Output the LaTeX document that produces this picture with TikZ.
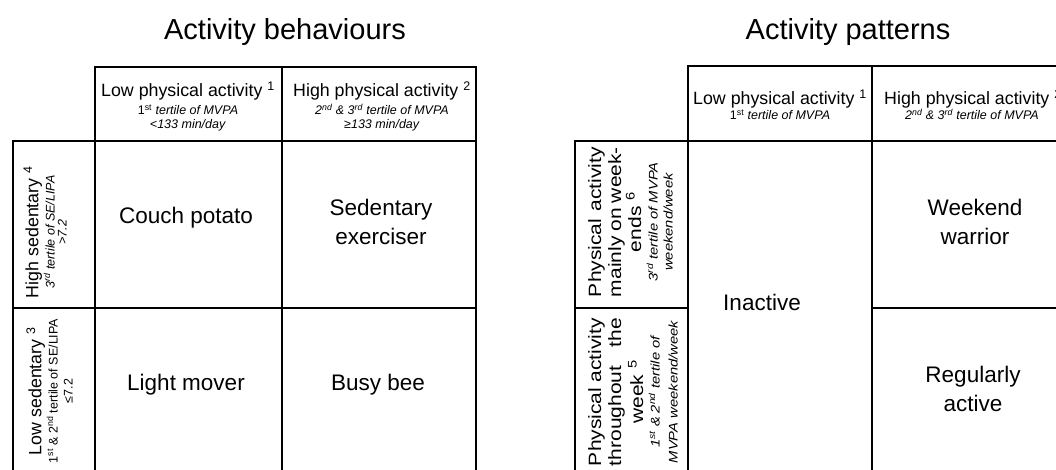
\documentclass[tikz,border=0pt]{standalone}
\usepackage{fontspec}
\setmainfont{Liberation Sans}
\newfontfamily\wideSans[FakeStretch=1.18]{Liberation Sans}
\newcommand{\fMain}{\fontsize{17.8}{20}\selectfont}
\newcommand{\fSmall}{\fontsize{12.5}{14}\selectfont}
\newcommand{\fBody}{\fontsize{22.5}{29}\selectfont}
\newcommand{\fTitle}{\fontsize{29}{33}\selectfont}
\tikzset{
  gridline/.style={line width=2.8pt, draw=black},
  titletext/.style={font=\fTitle, inner sep=0pt, anchor=base},
  headmain/.style={font=\fMain, inner sep=0pt, anchor=base},
  headsub/.style={font=\fSmall, inner sep=0pt, anchor=base},
  celltext/.style={font=\fBody, inner sep=0pt, align=center},
  stubmain/.style={font=\fMain, inner sep=0pt, anchor=base, rotate=90},
  stubsub/.style={font=\fSmall, inner sep=0pt, anchor=base, rotate=90},
  widemain/.style={font=\wideSans\fMain, inner sep=0pt, anchor=base, rotate=90},
  widesub/.style={font=\wideSans\fSmall\itshape, inner sep=0pt, anchor=base, rotate=90},
}
\begin{document}
\begin{tikzpicture}[x=1pt,y=-1pt]
\useasboundingbox (0,0) rectangle (1056,470);
\clip (0,0) rectangle (1056,470);

% ---------------- titles
\node[titletext] (t1) at (285,40) {Activity behaviours};
\node[titletext] (t2) at (848,40) {Activity patterns};

% ---------------- left table grid
\draw[gridline] (95,480) -- (95,67) -- (476,67) -- (476,480);
\draw[gridline] (282,67) -- (282,480);
\draw[gridline] (13,480) -- (13,141) -- (476,141);
\draw[gridline] (13,308) -- (476,308);

% left header
\node[headmain] (lh1a) at (188,97) {Low physical activity \textsuperscript{1}};
\node[headsub] (lh1b) at (188,114.5) {1\textsuperscript{st} \textit{tertile of MVPA}};
\node[headsub] (lh1c) at (188,128.5) {\textit{<133 min/day}};
\node[headmain] (lh2a) at (382,97) {High physical activity \textsuperscript{2}};
\node[headsub] (lh2b) at (382,114.5) {\textit{2\textsuperscript{nd} \& 3\textsuperscript{rd} tertile of MVPA}};
\node[headsub] (lh2c) at (382,128.5) {\textit{≥133 min/day}};

% left stub
\node[stubmain] (ls1a) at (38.4,232) {High sedentary \textsuperscript{4}};
\node[stubsub] (ls1b) at (54.5,232) {\textit{3\textsuperscript{rd} tertile of SE/LIPA}};
\node[stubsub] (ls1c) at (66.5,232) {\textit{>7.2}};
\node[stubmain] (ls2a) at (41.4,391) {Low sedentary \textsuperscript{3}};
\node[stubsub] (ls2b) at (57.5,391) {1\textsuperscript{st} \& 2\textsuperscript{nd} tertile of SE/LIPA};
\node[stubsub] (ls2c) at (72.5,391) {≤7.2};

% left cells
\node[celltext] (couch) at (186,218) {Couch potato};
\node[celltext] (sedex) at (381,222.3) {Sedentary\\exerciser};
\node[celltext] (light) at (186,385) {Light mover};
\node[celltext] (busy) at (378,385) {Busy bee};

% ---------------- right table grid
\draw[gridline] (688,480) -- (688,66) -- (1080,66);
\draw[gridline] (872,66) -- (872,480);
\draw[gridline] (575,480) -- (575,141) -- (1080,141);
\draw[gridline] (575,308) -- (688,308);
\draw[gridline] (872,308) -- (1080,308);

% right header
\node[headmain] (rh1a) at (780,105) {Low physical activity \textsuperscript{1}};
\node[headsub] (rh1b) at (780,119.5) {1\textsuperscript{st} \textit{tertile of MVPA}};
\node[headmain] (rh2a) at (973,105) {High physical activity \textsuperscript{2}};
\node[headsub] (rh2b) at (972,119.5) {\textit{2\textsuperscript{nd} \& 3\textsuperscript{rd} tertile of MVPA}};

% right stub
\node[widemain] (rs1a) at (601,222) {\makebox[150pt][s]{Physical activity}};
\node[widemain] (rs1b) at (621,222) {\makebox[150pt][s]{mainly on week-}};
\node[widemain] (rs1c) at (641,222) {ends \textsuperscript{6}};
\node[widesub] (rs1d) at (657.5,222) {3\textsuperscript{rd} tertile of MVPA};
\node[widesub] (rs1e) at (672.5,222) {weekend/week};
\node[widemain] (rs2a) at (601,392) {\makebox[148pt][s]{Physical activity}};
\node[widemain] (rs2b) at (621,392) {\makebox[148pt][s]{throughout the}};
\node[widemain] (rs2c) at (643,392) {week \textsuperscript{5}};
\node[widesub] (rs2d) at (659.5,392) {1\textsuperscript{st} \& 2\textsuperscript{nd} tertile of};
\node[widesub] (rs2e) at (677.5,392) {MVPA weekend/week};

% right cells
\node[celltext] (inactive) at (762,302) {Inactive};
\node[celltext] (weekend) at (975,222.3) {Weekend\\warrior};
\node[celltext] (regular) at (973,388.8) {Regularly\\active};
\end{tikzpicture}
\end{document}
